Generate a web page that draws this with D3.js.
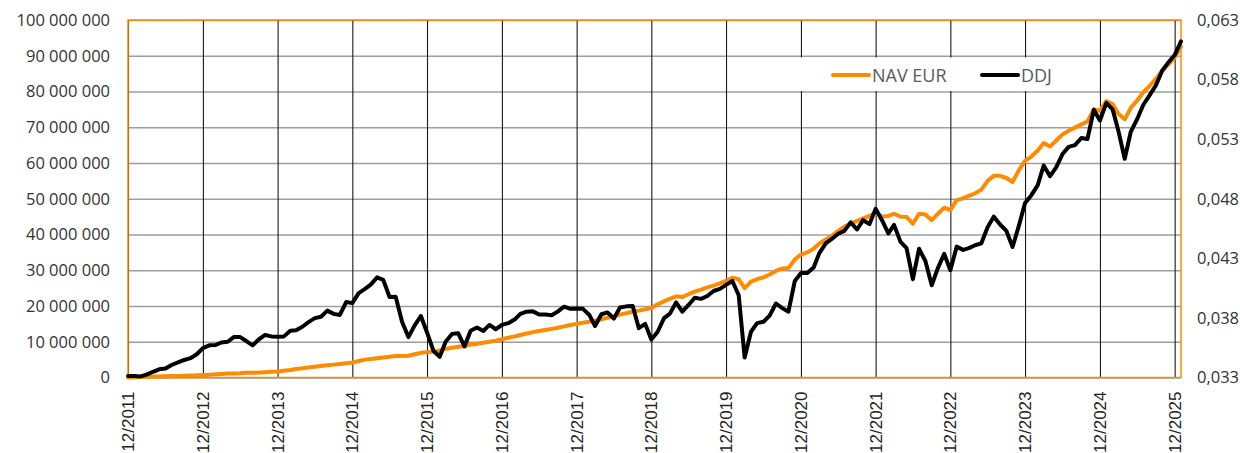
<!DOCTYPE html>
<html>
<head>
<meta charset="utf-8">
<script src="https://cdn.jsdelivr.net/npm/d3@7"></script>
<style>
  html, body { margin: 0; padding: 0; background: #fff; }
  svg { display: block; }
</style>
</head>
<body>
<svg id="chart" width="1240" height="453"></svg>
<script>
// ---------------- DATA ----------------
const firstMonth = "12/2011";
const lastMonth = "01/2026";

const xTickLabels = ["12/2011","12/2012","12/2013","12/2014","12/2015","12/2016","12/2017",
  "12/2018","12/2019","12/2020","12/2021","12/2022","12/2023","12/2024","12/2025"];

const leftTicks = [0, 10000000, 20000000, 30000000, 40000000, 50000000, 60000000, 70000000, 80000000, 90000000, 100000000];
const rightTicks = [0.033, 0.038, 0.043, 0.048, 0.053, 0.058, 0.063];

const seriesNames = ["NAV EUR", "DDJ"];

// NAV EUR (left axis, EUR), monthly
const navEur = [
  0.0, 0.1, 0.15, 0.2, 0.25, 0.3, 0.35, 0.4, 0.45, 0.5, 0.55, 0.6,
  0.7, 0.8, 0.9, 1.0, 1.1, 1.15, 1.2, 1.3, 1.35, 1.4, 1.5, 1.6,
  1.7, 1.9, 2.1, 2.4, 2.6, 2.8, 3.0, 3.2, 3.4, 3.6, 3.8, 4.0,
  4.2, 4.6, 5.0, 5.2, 5.4, 5.6, 5.8, 6.0, 6.0, 6.1, 6.5, 6.9,
  7.1, 7.2, 7.6, 8.0, 8.3, 8.6, 8.8, 9.2, 9.4, 9.7, 10.0, 10.3,
  10.7, 11.1, 11.5, 11.9, 12.3, 12.7, 13.0, 13.3, 13.6, 13.9, 14.3, 14.7,
  15.0, 15.3, 15.6, 15.9, 16.3, 16.7, 17.1, 17.6, 18.0, 18.4, 18.7, 19.1,
  19.4, 20.5, 21.3, 22.0, 22.7, 22.5, 23.3, 24.0, 24.6, 25.2, 25.7, 26.3,
  27.0, 27.9, 27.5, 25.0, 26.8, 27.5, 28.0, 28.8, 29.8, 30.5, 30.6, 33.0,
  34.4, 35.0, 36.0, 37.5, 38.6, 39.6, 41.0, 42.2, 43.0, 43.8, 44.5, 45.2,
  46.0, 45.0, 45.2, 45.8, 45.0, 44.9, 43.0, 45.8, 45.6, 44.0, 45.8, 47.5,
  46.8, 49.6, 50.1, 50.8, 51.5, 52.5, 55.0, 56.4, 56.4, 55.8, 54.7, 58.0,
  60.6, 61.8, 63.5, 65.6, 64.6, 66.3, 68.0, 69.0, 69.9, 70.8, 71.6, 75.0,
  74.6, 77.3, 76.5, 73.8, 72.2, 75.5, 77.5, 79.8, 81.6, 83.6, 85.8, 87.6,
  89.5, 92.5
].map(v => v * 1e6);

// DDJ (right axis), monthly
const ddj = [
  0.03312, 0.03312, 0.03309, 0.03324, 0.03348, 0.03369, 0.03375, 0.03405, 0.03426, 0.03447, 0.03462, 0.03495,
  0.03546, 0.03570, 0.03573, 0.03594, 0.03600, 0.03639, 0.03639, 0.03606, 0.03570, 0.03621, 0.03657, 0.03645,
  0.03642, 0.03645, 0.03693, 0.03696, 0.03726, 0.03765, 0.03798, 0.03810, 0.03861, 0.03834, 0.03825, 0.03933,
  0.03924, 0.04008, 0.04044, 0.04080, 0.04140, 0.04119, 0.03975, 0.03978, 0.03768, 0.03639, 0.03735, 0.03816,
  0.03678, 0.03525, 0.03474, 0.03600, 0.03666, 0.03672, 0.03561, 0.03693, 0.03720, 0.03690, 0.03741, 0.03705,
  0.03741, 0.03756, 0.03786, 0.03834, 0.03852, 0.03855, 0.03828, 0.03828, 0.03822, 0.03855, 0.03894, 0.03876,
  0.03879, 0.03876, 0.03825, 0.03732, 0.03831, 0.03846, 0.03795, 0.03888, 0.03897, 0.03900, 0.03714, 0.03750,
  0.03618, 0.03684, 0.03798, 0.03834, 0.03930, 0.03852, 0.03909, 0.03969, 0.03960, 0.03984, 0.04026, 0.04044,
  0.04077, 0.04110, 0.03990, 0.03468, 0.03684, 0.03756, 0.03768, 0.03819, 0.03921, 0.03882, 0.03852, 0.04110,
  0.04176, 0.04176, 0.04224, 0.04344, 0.04425, 0.04464, 0.04506, 0.04530, 0.04602, 0.04542, 0.04620, 0.04587,
  0.04716, 0.04620, 0.04509, 0.04581, 0.04440, 0.04386, 0.04125, 0.04380, 0.04278, 0.04074, 0.04218, 0.04338,
  0.04200, 0.04398, 0.04371, 0.04386, 0.04410, 0.04425, 0.04560, 0.04650, 0.04584, 0.04530, 0.04395, 0.04575,
  0.04764, 0.04830, 0.04914, 0.05079, 0.04989, 0.05064, 0.05175, 0.05235, 0.05250, 0.05310, 0.05301, 0.05547,
  0.05457, 0.05604, 0.05550, 0.05370, 0.05136, 0.05364, 0.05469, 0.05589, 0.05670, 0.05754, 0.05874, 0.05946,
  0.06006, 0.06120
];

// ---------------- CHART ----------------
const W = 1240, H = 453;
const m = { left: 128, right: 1181, top: 20, bottom: 377.5 };
const ORANGE = "#ff8c00";

const parseM = d3.timeParse("%m/%Y");
const months = d3.timeMonth.range(parseM(firstMonth), d3.timeMonth.offset(parseM(lastMonth), 1));

const x = d3.scaleTime().domain([months[0], months[months.length - 1]]).range([m.left, m.right]);
const yL = d3.scaleLinear().domain([0, 100000000]).range([m.bottom, m.top]);
const yR = d3.scaleLinear().domain([0.033, 0.063]).range([m.bottom, m.top]);

const loc = d3.formatLocale({ decimal: ",", thousands: " ", grouping: [3], currency: ["", ""] });
const fmtL = loc.format(",.0f");
const fmtR = loc.format(".3f");

const svg = d3.select("#chart");

// horizontal gridlines
svg.append("g")
  .attr("transform", `translate(${m.left},0)`)
  .call(d3.axisLeft(yL).tickValues(leftTicks).tickSize(-(m.right - m.left)).tickFormat(""))
  .call(g => g.select(".domain").remove())
  .call(g => g.selectAll("line").attr("stroke", "#9e9e9e").attr("stroke-width", 1.5));

// vertical gridlines
const xTickDates = xTickLabels.map(parseM);
svg.append("g")
  .attr("transform", `translate(0,${m.bottom})`)
  .call(d3.axisBottom(x).tickValues(xTickDates).tickSize(-(m.bottom - m.top)).tickFormat(""))
  .call(g => g.select(".domain").remove())
  .call(g => g.selectAll("line").attr("stroke", "#1a1a1a").attr("stroke-width", 1.1));

// left axis labels
svg.append("g")
  .attr("transform", `translate(${m.left},0)`)
  .call(d3.axisLeft(yL).tickValues(leftTicks).tickSize(0).tickPadding(18).tickFormat(fmtL))
  .call(g => g.select(".domain").remove())
  .call(g => g.selectAll("text")
    .attr("font-family", "'Open Sans', sans-serif").attr("font-size", 16.5).attr("fill", "#333"));

// right axis labels
svg.append("g")
  .attr("transform", `translate(${m.right},0)`)
  .call(d3.axisRight(yR).tickValues(rightTicks).tickSize(0).tickPadding(16).tickFormat(fmtR))
  .call(g => g.select(".domain").remove())
  .call(g => g.selectAll("text")
    .attr("font-family", "'Open Sans', sans-serif").attr("font-size", 16.5).attr("fill", "#333"));

// bottom axis labels (rotated)
svg.append("g")
  .attr("transform", `translate(0,${m.bottom})`)
  .call(d3.axisBottom(x).tickValues(xTickDates).tickSize(0).tickFormat(d3.timeFormat("%m/%Y")))
  .call(g => g.select(".domain").remove())
  .call(g => g.selectAll("text")
    .attr("font-family", "'Liberation Sans', Arial, sans-serif").attr("font-size", 17).attr("fill", "#222")
    .attr("text-anchor", "end")
    .attr("dy", null).attr("y", 0)
    .attr("transform", "translate(0,14) rotate(-90)")
    .attr("dx", 0)
    .attr("dominant-baseline", "central"));

// plot border
svg.append("rect")
  .attr("x", m.left).attr("y", m.top)
  .attr("width", m.right - m.left).attr("height", m.bottom - m.top)
  .attr("fill", "none").attr("stroke", ORANGE).attr("stroke-width", 1.5);

// lines
const lineL = d3.line().x((d, i) => x(months[i])).y(d => yL(d));
const lineR = d3.line().x((d, i) => x(months[i])).y(d => yR(d));

svg.append("path").datum(navEur)
  .attr("d", lineL).attr("fill", "none").attr("stroke", ORANGE)
  .attr("stroke-width", 4).attr("stroke-linejoin", "round").attr("stroke-linecap", "round");

svg.append("path").datum(ddj)
  .attr("d", lineR).attr("fill", "none").attr("stroke", "#000")
  .attr("stroke-width", 4).attr("stroke-linejoin", "round").attr("stroke-linecap", "round");

// legend
const lg = svg.append("g");
lg.append("rect").attr("x", 798).attr("y", 57.5).attr("width", 285).attr("height", 33.5).attr("fill", "#fff");
const items = [
  { name: seriesNames[0], color: ORANGE, x0: 833 },
  { name: seriesNames[1], color: "#000", x0: 982 }
];
items.forEach(it => {
  lg.append("line").attr("x1", it.x0).attr("x2", it.x0 + 36).attr("y1", 75).attr("y2", 75)
    .attr("stroke", it.color).attr("stroke-width", 4).attr("stroke-linecap", "round");
  lg.append("text").attr("x", it.x0 + 39).attr("y", 75).attr("dominant-baseline", "central")
    .attr("font-family", "'Open Sans', sans-serif").attr("font-size", 18).attr("fill", "#595959")
    .text(it.name);
});
</script>
</body>
</html>
